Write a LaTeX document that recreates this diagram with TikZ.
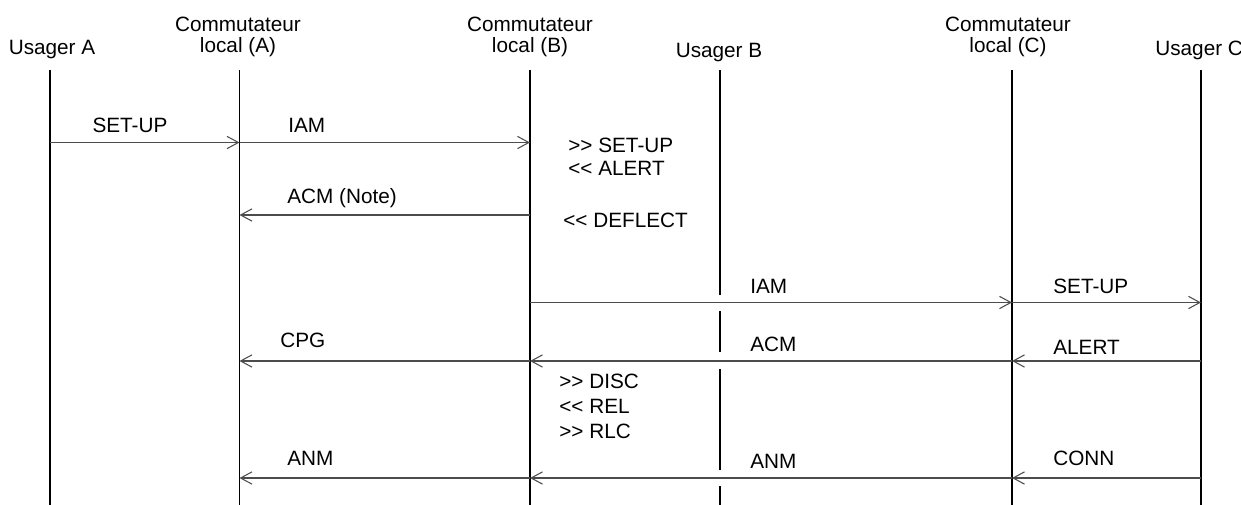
\documentclass[tikz,border=0pt]{standalone}
\usepackage{fontspec}
\newfontfamily\seqfont{Liberation Sans}
\usetikzlibrary{arrows.meta}

\begin{document}
\begin{tikzpicture}[x=0.02cm,y=-0.02cm,
  life/.style={line width=1.1pt},
  msg/.style={draw=black!70,line width=0.6pt,-{Straight Barb[length=6.5pt,width=7pt]}},
  lbl/.style={anchor=base west,inner sep=0pt},
  head/.style={anchor=base,inner sep=0pt,align=center},
  every node/.style={font=\seqfont\fontsize{11.8}{11.6}\selectfont}]
  \useasboundingbox (0,0) rectangle (1241,504);
  % headers
  \node[head] (usa) at (52,54) {Usager A};
  \node[head] (cla) at (238,52) {Commutateur\\local (A)};
  \node[head] (clb) at (530,52) {Commutateur\\local (B)};
  \node[head] (usb) at (719,57) {Usager B};
  \node[head] (clc) at (1008,52) {Commutateur\\local (C)};
  \node[lbl] (usc) at (1155,55) {Usager C};
  % lifelines
  \coordinate (lusa) at (50,70);
  \coordinate (lcla) at (239.5,70);
  \coordinate (lclb) at (530,70);
  \coordinate (lusb) at (720,70);
  \coordinate (lclc) at (1012,70);
  \coordinate (lusc) at (1201,70);
  \coordinate (bot) at (0,520);
  \draw[life] (lusa) -- (lusa |- bot);
  \draw[life] (lcla) -- (lcla |- bot);
  \draw[life] (lclb) -- (lclb |- bot);
  \draw[life] (lclc) -- (lclc |- bot);
  \draw[life] (lusc) -- (lusc |- bot);
  \foreach \s/\e in {70/295,311/352,369/470,486/520}
    \draw[life] (lusb |- 0,\s) -- (lusb |- 0,\e);
  % message rows
  \coordinate (r1) at (0,142.5);
  \coordinate (r2) at (0,215);
  \coordinate (r3) at (0,302.5);
  \coordinate (r4) at (0,361);
  \coordinate (r5) at (0,478);
  \draw[msg] (lusa |- r1) -- (lcla |- r1);
  \draw[msg] (lcla |- r1) -- (lclb |- r1);
  \draw[msg] (lclb |- r2) -- (lcla |- r2);
  \draw[msg] (lclb |- r3) -- (lclc |- r3);
  \draw[msg] (lclc |- r3) -- (lusc |- r3);
  \draw[msg] (lusc |- r4) -- (lclc |- r4);
  \draw[msg] (lclc |- r4) -- (lclb |- r4);
  \draw[msg] (lclb |- r4) -- (lcla |- r4);
  \draw[msg] (lusc |- r5) -- (lclc |- r5);
  \draw[msg] (lclc |- r5) -- (lclb |- r5);
  \draw[msg] (lclb |- r5) -- (lcla |- r5);
  % labels
  \node[anchor=base,inner sep=0pt] (setupa) at (130,132) {SET-UP};
  \node[lbl] (iama) at (288,132) {IAM};
  \node[lbl] (acmnote) at (287,203) {ACM (Note)};
  \node[lbl] (bsetup) at (568,152) {>> SET-UP};
  \node[lbl] (balert) at (568,175) {<< ALERT};
  \node[lbl] (bdefl) at (563,227) {<< DEFLECT};
  \node[lbl] (iamc) at (750,293) {IAM};
  \node[lbl] (setupc) at (1053,293) {SET-UP};
  \node[lbl] (cpg) at (280,347) {CPG};
  \node[lbl] (acmc) at (750,351) {ACM};
  \node[lbl] (alertc) at (1053,354) {ALERT};
  \node[lbl] (bdisc) at (559,388) {>> DISC};
  \node[lbl] (brel) at (559,413) {<< REL};
  \node[lbl] (brlc) at (559,438) {>> RLC};
  \node[lbl] (anma) at (287,465) {ANM};
  \node[lbl] (anmc) at (750,468) {ANM};
  \node[lbl] (conn) at (1053,465) {CONN};
\end{tikzpicture}
\end{document}
